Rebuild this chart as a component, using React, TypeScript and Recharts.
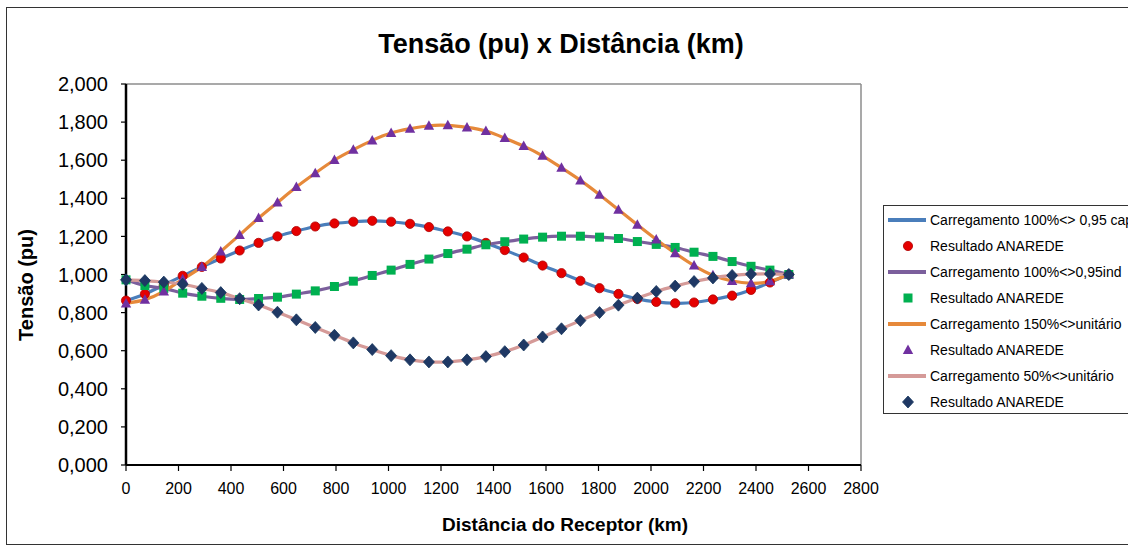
import { LineChart, Line, XAxis, YAxis, ReferenceLine } from "recharts";

// distância do receptor (km)
const distanciaKm = [
  0, 72, 144, 216, 289, 361, 433, 505, 577, 649, 721, 794, 866, 938, 1010, 1082, 1154, 1226,
  1299, 1371, 1443, 1515, 1587, 1659, 1731, 1804, 1876, 1948, 2020, 2092, 2164, 2236, 2309, 2381,
  2453, 2525,
];

// tensão (pu) para cada carregamento
const carga100Cap = [
  0.863, 0.898, 0.945, 0.993, 1.04, 1.084, 1.126, 1.166, 1.2, 1.228, 1.252, 1.268, 1.277, 1.282,
  1.277, 1.266, 1.249, 1.226, 1.2, 1.166, 1.128, 1.089, 1.047, 1.007, 0.967, 0.928, 0.898, 0.872,
  0.856, 0.849, 0.853, 0.869, 0.889, 0.919, 0.958, 1.0,
];
const carga100Ind = [
  0.972, 0.942, 0.927, 0.902, 0.886, 0.875, 0.869, 0.874, 0.881, 0.897, 0.914, 0.937, 0.965, 0.995,
  1.023, 1.053, 1.081, 1.11, 1.133, 1.156, 1.172, 1.186, 1.196, 1.201, 1.201, 1.196, 1.189, 1.173,
  1.158, 1.142, 1.117, 1.095, 1.068, 1.043, 1.023, 1.0,
];
const carga150Unit = [
  0.848, 0.868, 0.911, 0.975, 1.04, 1.121, 1.208, 1.296, 1.378, 1.459, 1.532, 1.601, 1.655, 1.704,
  1.743, 1.765, 1.781, 1.783, 1.772, 1.753, 1.716, 1.674, 1.623, 1.56, 1.494, 1.419, 1.34, 1.261,
  1.184, 1.112, 1.047, 0.996, 0.966, 0.954, 0.964, 1.0,
];
const carga50Unit = [
  0.972, 0.968, 0.96, 0.949, 0.927, 0.905, 0.873, 0.84, 0.802, 0.762, 0.722, 0.681, 0.641, 0.606,
  0.574, 0.552, 0.541, 0.541, 0.552, 0.569, 0.595, 0.63, 0.672, 0.715, 0.758, 0.8, 0.839, 0.876,
  0.911, 0.939, 0.963, 0.982, 0.995, 1.002, 1.003, 1.0,
];

const xTicks = [0, 200, 400, 600, 800, 1000, 1200, 1400, 1600, 1800, 2000, 2200, 2400, 2600, 2800];
const yTicks = [0, 0.2, 0.4, 0.6, 0.8, 1.0, 1.2, 1.4, 1.6, 1.8, 2.0];

const legendLabels = [
  "Carregamento 100%<> 0,95 cap",
  "Resultado ANAREDE",
  "Carregamento 100%<>0,95ind",
  "Resultado ANAREDE",
  "Carregamento 150%<>unitário",
  "Resultado ANAREDE",
  "Carregamento 50%<>unitário",
  "Resultado ANAREDE",
];

const data = distanciaKm.map((km, i) => ({
  km,
  cap: carga100Cap[i],
  ind: carga100Ind[i],
  u150: carga150Unit[i],
  u50: carga50Unit[i],
}));

const FONT = "'Liberation Sans', Arial, sans-serif";

const COLORS = {
  capLine: "#4A7EBB",
  capDot: "#E50000",
  indLine: "#7B5F9C",
  indDot: "#00B050",
  u150Line: "#E6893A",
  u150Dot: "#7030A0",
  u50Line: "#D59A98",
  u50Dot: "#1F3864",
};

type Shape = "circle" | "square" | "triangle" | "diamond";

function Marker({ shape, cx, cy }: { shape: Shape; cx: number; cy: number }) {
  if (shape === "circle")
    return <circle cx={cx} cy={cy} r={4.6} fill={COLORS.capDot} stroke="#B00000" strokeWidth={0.8} />;
  if (shape === "square")
    return <rect x={cx - 4.5} y={cy - 4.5} width={9} height={9} fill={COLORS.indDot} />;
  if (shape === "triangle")
    return (
      <polygon
        points={`${cx},${cy - 5.5} ${cx + 5.2},${cy + 4} ${cx - 5.2},${cy + 4}`}
        fill={COLORS.u150Dot}
      />
    );
  return (
    <polygon
      points={`${cx},${cy - 6} ${cx + 5.5},${cy} ${cx},${cy + 6} ${cx - 5.5},${cy}`}
      fill={COLORS.u50Dot}
      stroke="#17375E"
      strokeWidth={0.8}
    />
  );
}

const dotOf = (shape: Shape) => (props: any) => {
  const { cx, cy, index } = props;
  if (cx == null || cy == null) return <g key={index} />;
  return (
    <g key={`${shape}-${index}`}>
      <Marker shape={shape} cx={cx} cy={cy} />
    </g>
  );
};

function Legend() {
  const rows: { line?: string; shape?: Shape }[] = [
    { line: COLORS.capLine },
    { shape: "circle" },
    { line: COLORS.indLine },
    { shape: "square" },
    { line: COLORS.u150Line },
    { shape: "triangle" },
    { line: COLORS.u50Line },
    { shape: "diamond" },
  ];
  return (
    <div
      style={{
        position: "absolute",
        left: 883,
        top: 205,
        width: 300,
        height: 207,
        border: "1.5px solid #333",
        background: "#fff",
        fontFamily: FONT,
        fontSize: 14,
        color: "#000",
      }}
    >
      {rows.map((r, i) => (
        <div key={i} style={{ position: "absolute", left: 0, top: 1 + i * 26, height: 26, width: 300 }}>
          <svg width={46} height={26} style={{ position: "absolute", left: 0, top: 0 }}>
            {r.line ? (
              <line x1={4} x2={42} y1={13} y2={13} stroke={r.line} strokeWidth={4} />
            ) : (
              <Marker shape={r.shape as Shape} cx={24} cy={13} />
            )}
          </svg>
          <span style={{ position: "absolute", left: 46, top: 4, whiteSpace: "nowrap", lineHeight: "18px" }}>
            {legendLabels[i]}
          </span>
        </div>
      ))}
    </div>
  );
}

export default function App() {
  return (
    <div
      style={{
        position: "fixed",
        left: 0,
        top: 0,
        width: 1128,
        height: 547,
        overflow: "hidden",
        background: "#fff",
      }}
    >
      <div
        style={{
          position: "absolute",
          left: 6,
          top: 7,
          width: 1140,
          height: 538,
          border: "1.5px solid #333",
          boxSizing: "border-box",
        }}
      />
      <div style={{ position: "absolute", left: 0, top: 0 }}>
        <LineChart width={1128} height={547} data={data} margin={{ top: 84, right: 267, left: 66, bottom: 42 }}>
          <XAxis
            dataKey="km"
            type="number"
            domain={[0, 2800]}
            ticks={xTicks}
            interval={0}
            height={40}
            tickSize={6}
            tickMargin={12}
            tick={{ fill: "#000", fontSize: 16, fontFamily: FONT }}
            tickLine={{ stroke: "#000", strokeWidth: 1.2 }}
            axisLine={{ stroke: "#000", strokeWidth: 2 }}
          />
          <YAxis
            type="number"
            domain={[0, 2]}
            ticks={yTicks}
            interval={0}
            width={60}
            tickSize={5}
            tickMargin={13}
            tick={{ fill: "#000", fontSize: 20, fontFamily: FONT }}
            tickLine={{ stroke: "#000", strokeWidth: 1.2 }}
            axisLine={{ stroke: "#000", strokeWidth: 2.5 }}
            tickFormatter={(v: number) => v.toFixed(3).replace(".", ",")}
          />
          <ReferenceLine y={2} stroke="#8C8C8C" strokeWidth={1.5} />
          <ReferenceLine x={2800} stroke="#8C8C8C" strokeWidth={1.5} />

          <Line type="natural" dataKey="cap" stroke={COLORS.capLine} strokeWidth={3.2} dot={false} activeDot={false} isAnimationActive={false} />
          <Line type="natural" dataKey="cap" stroke="none" dot={dotOf("circle")} activeDot={false} isAnimationActive={false} />
          <Line type="natural" dataKey="ind" stroke={COLORS.indLine} strokeWidth={3.2} dot={false} activeDot={false} isAnimationActive={false} />
          <Line type="natural" dataKey="ind" stroke="none" dot={dotOf("square")} activeDot={false} isAnimationActive={false} />
          <Line type="natural" dataKey="u150" stroke={COLORS.u150Line} strokeWidth={3.2} dot={false} activeDot={false} isAnimationActive={false} />
          <Line type="natural" dataKey="u150" stroke="none" dot={dotOf("triangle")} activeDot={false} isAnimationActive={false} />
          <Line type="natural" dataKey="u50" stroke={COLORS.u50Line} strokeWidth={3.2} dot={false} activeDot={false} isAnimationActive={false} />
          <Line type="natural" dataKey="u50" stroke="none" dot={dotOf("diamond")} activeDot={false} isAnimationActive={false} />
        </LineChart>
      </div>
      <svg width={1128} height={547} style={{ position: "absolute", left: 0, top: 0, pointerEvents: "none" }}>
        <text x={561} y={53} textAnchor="middle" fontFamily={FONT} fontWeight="bold" fontSize={27} fill="#000">
          Tensão (pu) x Distância (km)
        </text>
        <text x={565} y={531} textAnchor="middle" fontFamily={FONT} fontWeight="bold" fontSize={19} fill="#000">
          Distância do Receptor (km)
        </text>
        <text
          x={0}
          y={0}
          transform="translate(33,285) rotate(-90)"
          textAnchor="middle"
          fontFamily={FONT}
          fontWeight="bold"
          fontSize={20}
          fill="#000"
        >
          Tensão (pu)
        </text>
      </svg>
      <Legend />
    </div>
  );
}
